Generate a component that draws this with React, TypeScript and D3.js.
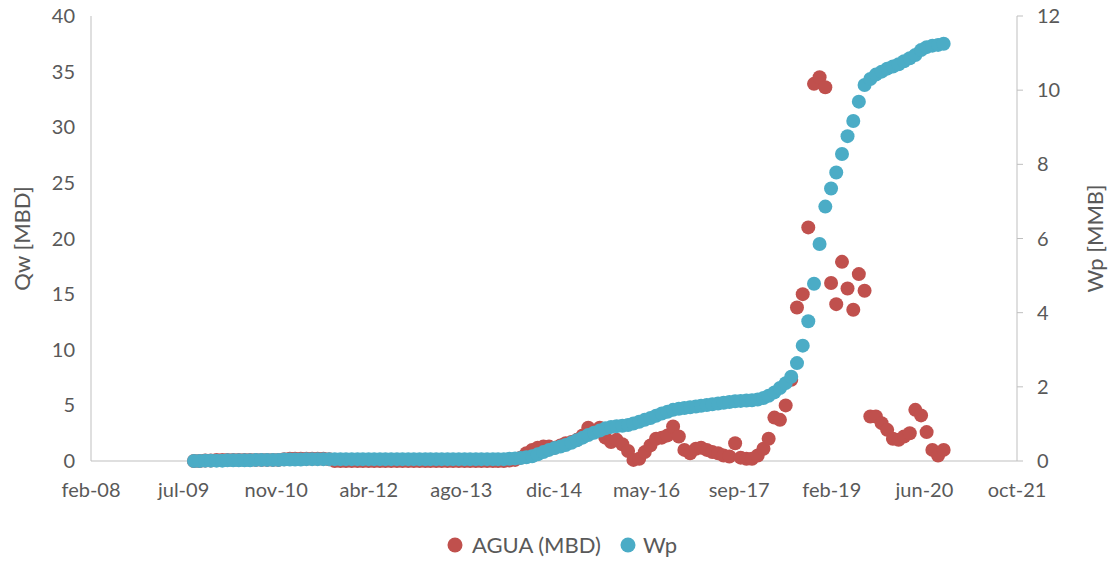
import React, { useEffect } from "react";
import * as d3 from "d3";

// ---- data (monthly, Aug-2009 .. Sep-2020) ----
const firstMonth = "2009-08";
const aguaMBD: number[] = [
  0.0, 0.0, 0.05, 0.05, 0.1, 0.1, 0.1, 0.1, 0.1, 0.1,
  0.1, 0.1, 0.1, 0.1, 0.1, 0.1, 0.15, 0.2, 0.2, 0.2,
  0.2, 0.2, 0.2, 0.2, 0.15, 0.0, 0.0, 0.0, 0.0, 0.0,
  0.0, 0.0, 0.0, 0.0, 0.0, 0.0, 0.0, 0.0, 0.0, 0.0,
  0.0, 0.0, 0.0, 0.0, 0.0, 0.0, 0.0, 0.0, 0.0, 0.0,
  0.0, 0.0, 0.0, 0.0, 0.0, 0.0, 0.05, 0.1, 0.3, 0.7,
  1.0, 1.2, 1.3, 1.3, 1.2, 1.4, 1.6, 1.7, 1.9, 2.3,
  3.0, 2.7, 3.0, 2.1, 1.7, 1.9, 1.5, 0.9, 0.1, 0.2,
  0.8, 1.4, 2.0, 2.1, 2.3, 3.1, 2.2, 1.0, 0.7, 1.1,
  1.2, 1.0, 0.8, 0.7, 0.5, 0.4, 1.6, 0.3, 0.2, 0.2,
  0.5, 1.1, 2.0, 3.9, 3.7, 5.0, 7.3, 13.8, 15.0, 21.0,
  33.9, 34.5, 33.6, 16.0, 14.1, 17.9, 15.5, 13.6, 16.8, 15.3,
  4.0, 4.0, 3.4, 2.8, 2.0, 1.9, 2.2, 2.5, 4.6, 4.1,
  2.6, 1.0, 0.5, 1.0,
];
const wpMMB: number[] = [
  0.0, 0.0, 0.01, 0.01, 0.01, 0.01, 0.02, 0.02, 0.02, 0.02,
  0.02, 0.03, 0.03, 0.03, 0.03, 0.03, 0.04, 0.04, 0.04, 0.04,
  0.05, 0.05, 0.05, 0.05, 0.05, 0.05, 0.05, 0.05, 0.05, 0.05,
  0.05, 0.05, 0.05, 0.05, 0.05, 0.05, 0.05, 0.05, 0.05, 0.05,
  0.05, 0.05, 0.05, 0.05, 0.05, 0.05, 0.05, 0.05, 0.05, 0.05,
  0.05, 0.05, 0.05, 0.05, 0.05, 0.05, 0.06, 0.07, 0.08, 0.1,
  0.13, 0.18, 0.24, 0.3, 0.35, 0.39, 0.43, 0.49, 0.56, 0.63,
  0.7, 0.76, 0.82, 0.88, 0.92, 0.94, 0.95, 0.97, 1.01, 1.06,
  1.11, 1.16, 1.22, 1.28, 1.33, 1.38, 1.41, 1.43, 1.45, 1.47,
  1.49, 1.51, 1.53, 1.55, 1.57, 1.59, 1.61, 1.62, 1.63, 1.64,
  1.66, 1.7, 1.76, 1.85, 1.97, 2.1, 2.27, 2.64, 3.11, 3.77,
  4.78, 5.85, 6.86, 7.35, 7.78, 8.28, 8.76, 9.17, 9.69, 10.14,
  10.3, 10.42, 10.5, 10.58, 10.64, 10.7, 10.78, 10.86, 10.95, 11.08,
  11.16, 11.2, 11.22, 11.25,
];
const xTickDates = [
  "2008-02-22", "2009-07-06", "2010-11-18", "2012-04-01", "2013-08-14",
  "2014-12-27", "2016-05-10", "2017-09-22", "2019-02-04", "2020-06-18", "2021-10-31",
];
const leftTicks = [0, 5, 10, 15, 20, 25, 30, 35, 40];
const rightTicks = [0, 2, 4, 6, 8, 10, 12];
const seriesNames = ["AGUA (MBD)", "Wp"];
const leftTitle = "Qw [MBD]";
const rightTitle = "Wp [MMB]";

const COLORS = { agua: "#C0504D", wp: "#4BACC6", axis: "#BFBFBF", text: "#595959" };
const FONT = "Lato, 'Open Sans', sans-serif";

const esLocale = d3.timeFormatLocale({
  dateTime: "%x, %X",
  date: "%d/%m/%Y",
  time: "%H:%M:%S",
  periods: ["AM", "PM"],
  days: ["domingo", "lunes", "martes", "miércoles", "jueves", "viernes", "sábado"],
  shortDays: ["dom", "lun", "mar", "mié", "jue", "vie", "sáb"],
  months: ["enero", "febrero", "marzo", "abril", "mayo", "junio", "julio", "agosto", "septiembre", "octubre", "noviembre", "diciembre"],
  shortMonths: ["ene", "feb", "mar", "abr", "may", "jun", "jul", "ago", "sep", "oct", "nov", "dic"],
});
const fmt = esLocale.format("%b-%y");
const parse = d3.timeParse("%Y-%m-%d");
const parseMonth = d3.timeParse("%Y-%m");

export default function App() {
  useEffect(() => {
    document.body.style.margin = "0";
  }, []);

  const W = 1112, H = 563;
  const plot = { left: 91, right: 1017, top: 16, bottom: 461 };
  const tickDates = xTickDates.map((s) => parse(s) as Date);
  const x = d3.scaleTime().domain([tickDates[0], tickDates[tickDates.length - 1]]).range([plot.left, plot.right]);
  const yL = d3.scaleLinear().domain([0, 40]).range([plot.bottom, plot.top]);
  const yR = d3.scaleLinear().domain([0, 12]).range([plot.bottom, plot.top]);

  const start = parseMonth(firstMonth) as Date;
  const dates = aguaMBD.map((_, i) => d3.timeDay.offset(d3.timeMonth.offset(start, i + 1), -1));
  const r = 7;

  return (
    <svg width={W} height={H} style={{ display: "block", background: "#fff" }} fontFamily={FONT}>
      {/* axes lines */}
      <line x1={plot.left} x2={plot.left} y1={plot.top} y2={plot.bottom} stroke={COLORS.axis} />
      <line x1={plot.right} x2={plot.right} y1={plot.top} y2={plot.bottom} stroke={COLORS.axis} />
      <line x1={plot.left} x2={plot.right} y1={plot.bottom} y2={plot.bottom} stroke={COLORS.axis} />
      {rightTicks.map((t) => (
        <line key={"rt" + t} x1={plot.right} x2={plot.right + 6} y1={yR(t)} y2={yR(t)} stroke={COLORS.axis} />
      ))}
      {/* left tick labels */}
      {leftTicks.map((t) => (
        <text key={"l" + t} x={plot.left - 16} y={yL(t)} dy="0.35em" textAnchor="end" fontSize={20} fill={COLORS.text}>
          {t}
        </text>
      ))}
      {rightTicks.map((t) => (
        <text key={"r" + t} x={plot.right + 20} y={yR(t)} dy="0.35em" textAnchor="start" fontSize={20} fill={COLORS.text}>
          {t}
        </text>
      ))}
      {tickDates.map((d, i) => (
        <text key={"x" + i} x={x(d)} y={plot.bottom + 36} textAnchor="middle" fontSize={20} fill={COLORS.text}>
          {fmt(d)}
        </text>
      ))}
      {/* axis titles */}
      <text transform={`translate(30,${(plot.top + plot.bottom) / 2}) rotate(-90)`} textAnchor="middle" fontSize={22} fill={COLORS.text}>
        {leftTitle}
      </text>
      <text transform={`translate(1103,${(plot.top + plot.bottom) / 2}) rotate(-90)`} textAnchor="middle" fontSize={22} fill={COLORS.text}>
        {rightTitle}
      </text>
      {/* series */}
      <g>
        {aguaMBD.map((v, i) => (
          <circle key={"a" + i} cx={x(dates[i])} cy={yL(v)} r={r} fill={COLORS.agua} />
        ))}
      </g>
      <g>
        {wpMMB.map((v, i) => (
          <circle key={"w" + i} cx={x(dates[i])} cy={yR(v)} r={r} fill={COLORS.wp} />
        ))}
      </g>
      {/* legend */}
      <g fontSize={22} fill={COLORS.text}>
        <circle cx={455} cy={545} r={7.5} fill={COLORS.agua} />
        <text x={472} y={545} dy="0.35em">{seriesNames[0]}</text>
        <circle cx={628} cy={545} r={7.5} fill={COLORS.wp} />
        <text x={643} y={545} dy="0.35em">{seriesNames[1]}</text>
      </g>
    </svg>
  );
}
